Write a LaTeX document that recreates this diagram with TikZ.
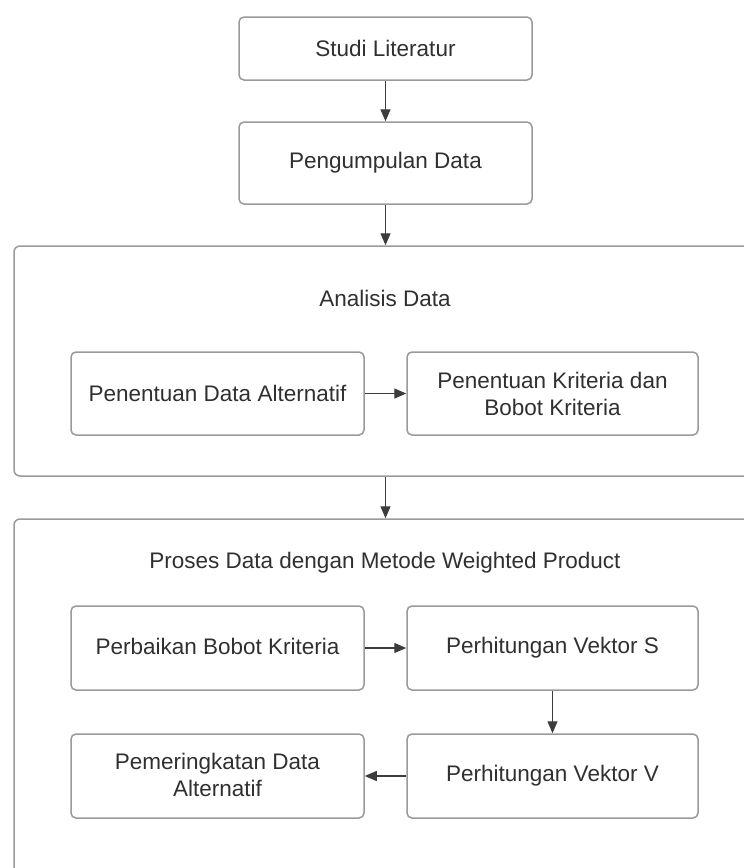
\documentclass[tikz,border=0pt]{standalone}
\usepackage{fontspec}
\setmainfont{Liberation Sans}
\usetikzlibrary{arrows.meta}
\definecolor{boxline}{HTML}{9A9A9A}
\definecolor{arrowline}{HTML}{3C3C3C}
\definecolor{txt}{HTML}{303030}
\tikzset{
  stepbox/.style={draw=boxline, line width=1.5pt, rounded corners=5pt, fill=white,
    text=txt, align=center, inner sep=0pt, font=\fontsize{22.5}{27}\selectfont},
  groupbox/.style={draw=boxline, line width=1.5pt, rounded corners=6pt, inner sep=0pt},
  grouptitle/.style={text=txt, font=\fontsize{22.5}{27}\selectfont, inner sep=0pt},
  flow/.style={draw=arrowline, line width=1.2pt, -{Triangle[length=12pt,width=10pt]}}
}
\begin{document}
\begin{tikzpicture}[x=1pt,y=-1pt]
\useasboundingbox (0,0) rectangle (744,868);
\fill[white] (0,0) rectangle (744,868);
% top steps
\node[stepbox, minimum width=293pt, minimum height=63pt] (studi) at (385.5,48.5) {Studi Literatur};
\node[stepbox, minimum width=293pt, minimum height=82pt] (peng) at (385.5,163) {Pengumpulan Data};
% group 1
\node[groupbox, minimum width=746pt, minimum height=230pt] (g1) at (387,361) {};
\node[grouptitle] (t1) at (385,298) {Analisis Data};
\node[stepbox, minimum width=293pt, minimum height=83pt] (pda) at (217.5,393.5) {Penentuan Data Alternatif};
\node[stepbox, minimum width=291pt, minimum height=83pt] (pkr) at (552.5,393.5) {Penentuan Kriteria dan\\Bobot Kriteria};
% group 2
\node[groupbox, minimum width=746pt, minimum height=400pt] (g2) at (387,719) {};
\node[grouptitle] (t2) at (385,563) {Proses Data dengan Metode Weighted Product};
\node[stepbox, minimum width=293pt, minimum height=84pt] (pbk) at (217.5,648) {\raisebox{3pt}{Perbaikan Bobot Kriteria}};
\node[stepbox, minimum width=291pt, minimum height=84pt] (pvs) at (552.5,648) {\raisebox{3pt}{Perhitungan Vektor S}};
\node[stepbox, minimum width=293pt, minimum height=84pt] (pdal) at (217.5,776) {\raisebox{2pt}{Pemeringkatan Data}\\\raisebox{2pt}{Alternatif}};
\node[stepbox, minimum width=291pt, minimum height=84pt] (pvv) at (552.5,776) {Perhitungan Vektor V};
% connectors
\draw[flow] (studi.south) -- (peng.north);
\draw[flow] (peng.south) -- (peng.south |- g1.north);
\draw[flow] (peng.south |- g1.south) -- (peng.south |- g2.north);
\draw[flow] (pda.east) -- (pkr.west);
\draw[flow] (pbk.east) -- (pvs.west);
\draw[flow] (pvs.south) -- (pvv.north);
\draw[flow] (pvv.west) -- (pdal.east);
\end{tikzpicture}
\end{document}
